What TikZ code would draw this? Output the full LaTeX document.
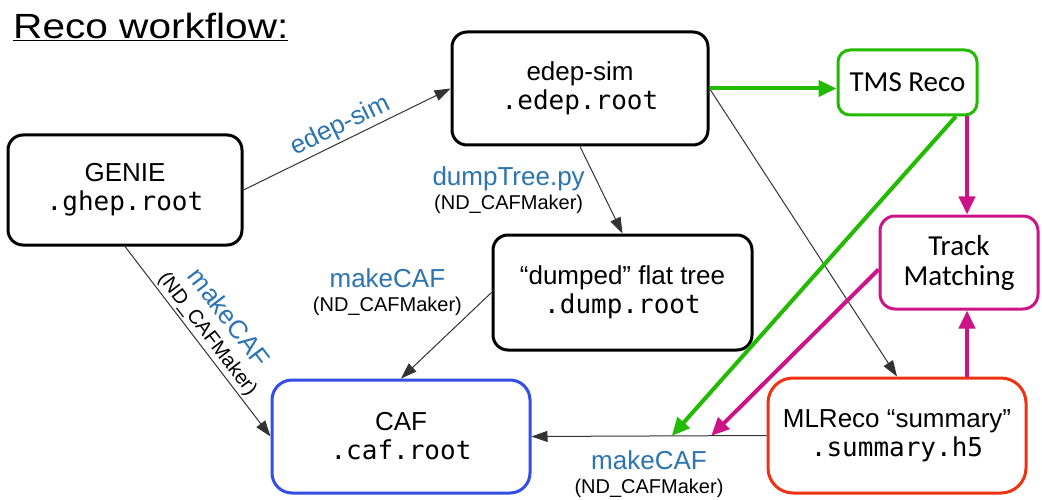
\documentclass[tikz,border=0pt]{standalone}
\usepackage{fontspec}
\setmainfont{Liberation Sans}
\setmonofont{DejaVu Sans Mono}
\newfontfamily\calfont{Carlito}
\usetikzlibrary{arrows.meta,calc}
\definecolor{labelblue}{RGB}{44,116,178}
\definecolor{cafblue}{RGB}{51,77,230}
\definecolor{tmsgreen}{RGB}{34,187,0}
\definecolor{trackmag}{RGB}{204,20,136}
\definecolor{mlred}{RGB}{238,51,17}
\newcommand{\bigtext}{\fontsize{26}{29}\selectfont}
\newcommand{\smalltext}{\fontsize{20}{23}\selectfont}

\begin{document}
\begin{tikzpicture}[x=1pt,y=-1pt,
  box/.style={draw, line width=3pt, rounded corners=15pt, fill=white, align=center, inner sep=0pt, font=\bigtext},
  calbox/.style={box, font=\calfont\fontsize{29}{30}\selectfont},
  flow/.style={draw=black!80, line width=1pt, -{Triangle[length=16pt,width=11pt]}},
  heavy/.style={line width=4pt, -{Triangle[length=18pt,width=16pt]}},
  lbl/.style={inner sep=2pt, align=center, font=\fontsize{26}{24}\selectfont}]
\fill[white] (0,0) rectangle (1042,500);
\useasboundingbox (0,0) rectangle (1042,500);
\node[anchor=north west, inner sep=0pt, font=\fontsize{35}{40}\selectfont] (title) at (13,13) {\scalebox{1.16}[1]{\underline{Reco workflow:}}};
% boxes
\node[box, minimum width=234pt, minimum height=110pt] (genie) at (125,190) {GENIE\\\texttt{.ghep.root}};
\node[box, minimum width=256pt, minimum height=113pt] (edep) at (580,88.5) {edep-sim\\\texttt{.edep.root}};
\node[calbox, draw=tmsgreen, rounded corners=12pt, minimum width=139pt, minimum height=65pt] (tms) at (907.5,82.5) {TMS Reco};
\node[calbox, draw=trackmag, minimum width=158pt, minimum height=93pt] (track) at (959,262.5) {Track\\Matching};
\node[box, minimum width=259pt, minimum height=115pt] (dump) at (622.5,292.5) {“dumped” flat tree\\\texttt{.dump.root}};
\node[box, draw=cafblue, rounded corners=20pt, minimum width=258pt, minimum height=113pt] (caf) at (401,436.5) {CAF\\\texttt{.caf.root}};
\node[box, draw=mlred, rounded corners=25pt, minimum width=258pt, minimum height=115pt] (ml) at (897,435.5) {MLReco “summary”\\\texttt{.summary.h5}};
\coordinate (gend) at ($(caf.east)!0.597!(ml.west)$);
\coordinate (mend) at ($(caf.east)!0.765!(ml.west)$);
% thin arrows
\draw[flow] (genie.east) -- (edep.west) node[lbl, midway, above, sloped, text=labelblue] {edep-sim};
\draw[flow] (genie.south) -- (caf.west) node[lbl, midway, above, sloped] {{\color{labelblue}makeCAF}\\{\smalltext (ND\_CAFMaker)}};
\draw[flow] (edep.south) -- (dump.north) node[lbl, midway, left=14pt] {{\color{labelblue}dumpTree.py}\\{\smalltext (ND\_CAFMaker)}};
\draw[flow] (edep.east) -- (ml.north);
\draw[flow] (dump.west) -- (caf.north) node[lbl, pos=0.3, anchor=south east] {{\color{labelblue}makeCAF}\\{\smalltext (ND\_CAFMaker)}};
\draw[flow] (ml.west) -- (caf.east) node[lbl, midway, below=12pt] {{\color{labelblue}makeCAF}\\{\smalltext (ND\_CAFMaker)}};
% TMS and matching
\draw[heavy, tmsgreen] (edep.east) -- (edep.east -| tms.west);
\draw[heavy, tmsgreen] ($(tms.south)!0.68!(tms.south east)$) -- (gend);
\draw[heavy, trackmag] ([xshift=8pt]track.north |- tms.south) -- ([xshift=8pt]track.north);
\draw[heavy, trackmag] ([xshift=8pt]track.south |- ml.north) -- ([xshift=8pt]track.south);
\draw[heavy, trackmag] ([yshift=-7pt]track.west) -- (mend);
\end{tikzpicture}
\end{document}
